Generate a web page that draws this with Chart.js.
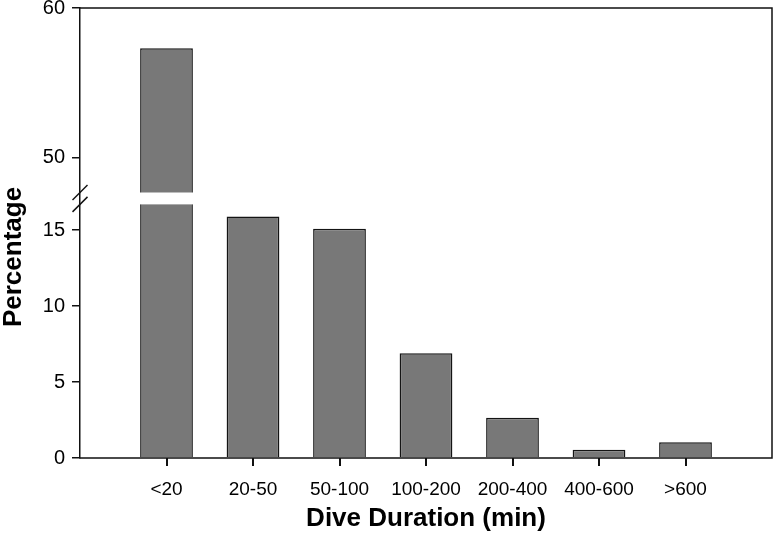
<!DOCTYPE html>
<html><head><meta charset="utf-8">
<script src="https://cdn.jsdelivr.net/npm/chart.js@4/dist/chart.umd.min.js"></script>
<style>html,body{margin:0;padding:0;background:#fff}</style>
</head><body>
<canvas id="c" width="774" height="534"></canvas>
<script>
// ---- data ----
const categories = ['<20', '20-50', '50-100', '100-200', '200-400', '400-600', '>600'];
const percentages = [57.3, 15.9, 15.1, 6.9, 2.65, 0.54, 1.04];
const yTickValues = [0, 5, 10, 15, 50, 60];
const axisBreak = { low: 16.7, high: 47.65 };
const xTitle = 'Dive Duration (min)';
const yTitle = 'Percentage';

// broken (piecewise linear) y scale
class BrokenLinearScale extends Chart.LinearScale {
  static id = 'brokenLinear';
  _frac(v) {
    const m = this.options.valueMap;
    if (v <= m[0][0]) return m[0][1];
    for (let i = 1; i < m.length; i++) {
      if (v <= m[i][0]) {
        const [v0, f0] = m[i - 1], [v1, f1] = m[i];
        return f0 + (v - v0) / (v1 - v0) * (f1 - f0);
      }
    }
    return m[m.length - 1][1];
  }
  buildTicks() { return this.options.tickValues.map(v => ({ value: v })); }
  getPixelForValue(value) { return this.getPixelForDecimal(this._frac(value)); }
  getValueForPixel(pixel) {
    const f = this.getDecimalForPixel(pixel);
    const m = this.options.valueMap;
    for (let i = 1; i < m.length; i++) {
      if (f <= m[i][1]) {
        const [v0, f0] = m[i - 1], [v1, f1] = m[i];
        return v0 + (f - f0) / (f1 - f0) * (v1 - v0);
      }
    }
    return m[m.length - 1][0];
  }
}
Chart.register(BrokenLinearScale);

const paddedLabels = ['', ...categories, ''];
const paddedData = [null, ...percentages, null];
const FONT = "'Liberation Sans', Arial, Helvetica, sans-serif";

const breakPlugin = {
  id: 'breakPlugin',
  afterDatasetsDraw(chart) {
    const { ctx, chartArea: a, scales: { y } } = chart;
    const yHigh = y.getPixelForValue(axisBreak.high);
    const yLow = y.getPixelForValue(axisBreak.low);
    ctx.save();
    ctx.fillStyle = '#fff';
    ctx.fillRect(a.left + 1, yHigh, a.right - a.left - 2, yLow - yHigh);
    ctx.restore();
  },
  afterDraw(chart) {
    const { ctx, chartArea: a } = chart;
    const xs = chart.scales.x, ys = chart.scales.y;
    ctx.save();
    ctx.strokeStyle = '#111';
    ctx.lineWidth = 1.5;
    // frame: top, right, bottom (x axis line)
    ctx.beginPath();
    ctx.moveTo(a.left, a.top);
    ctx.lineTo(a.right, a.top);
    ctx.lineTo(a.right, a.bottom);
    ctx.lineTo(a.left - 0.75, a.bottom);
    ctx.stroke();
    // x tick marks at each category centre (positions from the category scale)
    ctx.fillStyle = '#111';
    for (let i = 0; i < categories.length; i++) {
      const px = xs.getPixelForValue(i + 1);
      ctx.fillRect(Math.round(px) - 1, a.bottom, 2, 8);
    }
    // break slashes on the y axis
    [axisBreak.high, axisBreak.low].forEach(v => {
      const py = ys.getPixelForValue(v);
      ctx.beginPath();
      ctx.moveTo(a.left - 7.5, py + 7.5);
      ctx.lineTo(a.left + 7.5, py - 7.5);
      ctx.stroke();
    });
    // y axis title
    ctx.translate(14, 257);
    ctx.rotate(-Math.PI / 2);
    ctx.fillStyle = '#000';
    ctx.font = 'bold 26px ' + FONT;
    ctx.textAlign = 'center';
    ctx.textBaseline = 'middle';
    ctx.fillText(yTitle, 0, 0);
    ctx.restore();
  }
};

new Chart(document.getElementById('c'), {
  type: 'bar',
  data: {
    labels: paddedLabels,
    datasets: [{
      data: paddedData,
      backgroundColor: '#787878',
      borderColor: '#141414',
      borderWidth: 1.5,
      categoryPercentage: 1,
      barPercentage: 0.61
    }]
  },
  options: {
    responsive: false,
    animation: false,
    layout: { padding: { left: 0, right: 2, top: 8, bottom: 0 } },
    plugins: { legend: { display: false }, tooltip: { enabled: false } },
    scales: {
      x: {
        type: 'category',
        offset: false,
        grid: { display: false },
        border: { display: false },
        ticks: { color: '#000', font: { family: FONT, size: 19 }, padding: 12, autoSkip: false, maxRotation: 0 },
        title: { display: true, text: xTitle, color: '#000', font: { family: FONT, size: 26, weight: 'bold' }, padding: { top: 0, bottom: 0 } },
        afterFit: s => { s.height = 76; s.paddingLeft = 0; s.paddingRight = 0; }
      },
      y: {
        type: 'brokenLinear',
        min: 0, max: 60,
        tickValues: yTickValues,
        valueMap: [[0, 0], [axisBreak.low, 0.5636], [axisBreak.high, 0.59], [60, 1]],
        grid: { drawOnChartArea: false, drawTicks: true, tickLength: 8, lineWidth: 1.5, tickColor: '#111' },
        border: { display: true, color: '#111', width: 1.5 },
        ticks: { color: '#000', font: { family: FONT, size: 20 }, padding: 7 },
        title: { display: false },
        afterFit: s => { s.width = 80; s.paddingTop = 0; s.paddingBottom = 0; }
      }
    }
  },
  plugins: [breakPlugin]
});
</script>
</body></html>
